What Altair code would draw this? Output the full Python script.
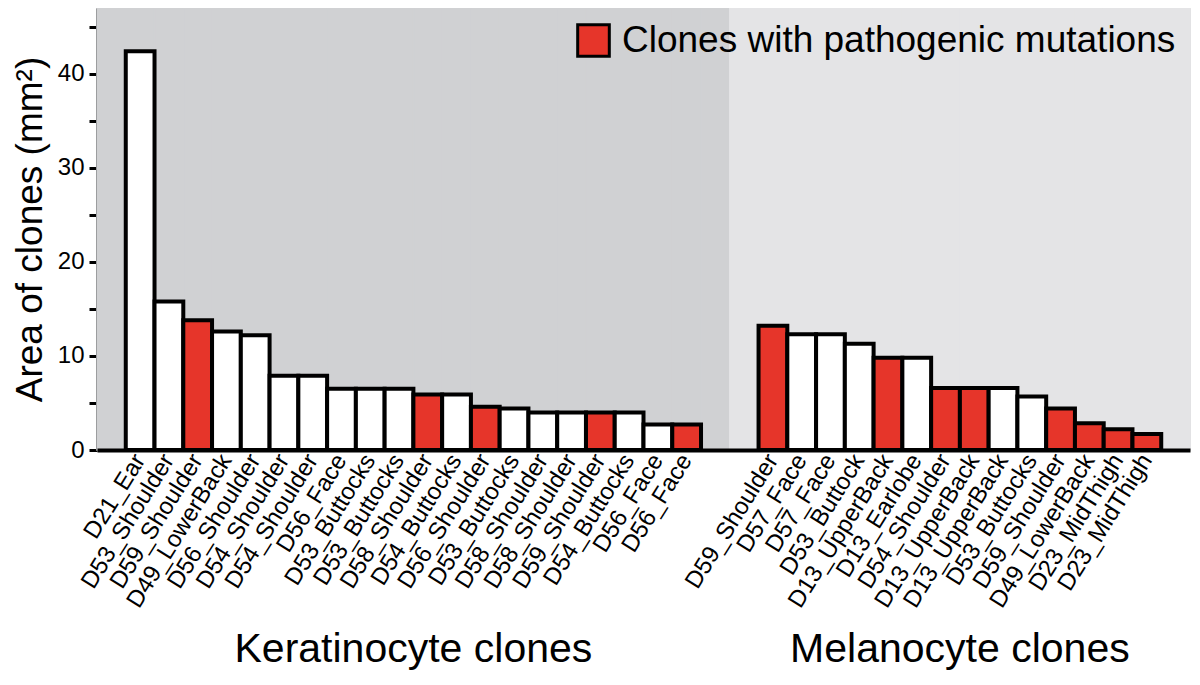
import altair as alt
import pandas as pd

# ---- data ----
ker_labels = ["D21_Ear", "D53_Shoulder", "D59_Shoulder", "D49_LowerBack", "D56_Shoulder",
              "D54_Shoulder", "D54_Shoulder", "D56_Face", "D53_Buttocks", "D53_Buttocks",
              "D58_Shoulder", "D54_Buttocks", "D56_Shoulder", "D53_Buttocks", "D58_Shoulder",
              "D58_Shoulder", "D59_Shoulder", "D54_Buttocks", "D56_Face", "D56_Face"]
ker_values = [42.4, 15.8, 13.8, 12.6, 12.2, 7.9, 7.9, 6.5, 6.5, 6.5,
              5.9, 5.9, 4.6, 4.4, 4.0, 4.0, 4.0, 4.0, 2.7, 2.7]
ker_mut = [0, 0, 1, 0, 0, 0, 0, 0, 0, 0, 1, 0, 1, 0, 0, 0, 1, 0, 0, 1]

mel_labels = ["D59_Shoulder", "D57_Face", "D57_Face", "D53_Buttock", "D13_UpperBack",
              "D13_Earlobe", "D54_Shoulder", "D13_UpperBack", "D13_UpperBack", "D53_Buttocks",
              "D59_Shoulder", "D49_LowerBack", "D23_MidThigh", "D23_MidThigh"]
mel_values = [13.2, 12.3, 12.3, 11.3, 9.8, 9.8, 6.6, 6.6, 6.6, 5.7, 4.4, 2.85, 2.2, 1.7]
mel_mut = [1, 0, 0, 0, 1, 0, 1, 1, 0, 0, 1, 1, 1, 1]

group_titles = ["Keratinocyte clones", "Melanocyte clones"]
legend_label = "Clones with pathogenic mutations"
y_max = 47

# ---- slot layout: 1 empty, 20 keratinocyte, 2 empty, 14 melanocyte, 1 empty ----
slot_labels = [""] + ker_labels + ["", ""] + mel_labels + [""]
n_slots = len(slot_labels)
k_start = 1
m_start = 1 + len(ker_labels) + 2

bars = []
for i, (lab, v, m) in enumerate(zip(ker_labels, ker_values, ker_mut)):
    bars.append({"slot": k_start + i, "label": lab, "value": v,
                 "cat": legend_label if m else "Other"})
for i, (lab, v, m) in enumerate(zip(mel_labels, mel_values, mel_mut)):
    bars.append({"slot": m_start + i, "label": lab, "value": v,
                 "cat": legend_label if m else "Other"})
bars_df = pd.DataFrame(bars)

dark_bg = "#d0d1d3"
light_bg = "#e4e4e6"
red = "#e6352a"
split = 1 + len(ker_labels) + 1  # middle of the gap
bg_df = pd.DataFrame({"slot": list(range(n_slots)),
                      "bg": [dark_bg if s < split else light_bg for s in range(n_slots)],
                      "y0": 0, "value": y_max})

title_df = pd.DataFrame({
    "slot": [k_start + len(ker_labels) // 2, m_start + len(mel_labels) // 2],
    "text": group_titles,
})

W, H = 1093, 442
FONT = "Liberation Sans"

label_expr = "[" + ",".join("'" + s + "'" for s in slot_labels) + "][datum.value]"

x_scale = alt.Scale(domain=list(range(n_slots)), paddingInner=0, paddingOuter=0)
y_scale = alt.Scale(domain=[0, y_max], nice=False)

x_axis = alt.Axis(labelExpr=label_expr, labelAngle=-58, labelFontSize=24,
                  labelFont=FONT, labelColor="black", ticks=False,
                  domain=True, domainColor="black", domainWidth=4,
                  labelPadding=6, labelOverlap=False, labelLimit=400,
                  title=None, labelAlign="right", labelBaseline="middle")
y_axis = alt.Axis(title="Area of clones (mm²)", titleFontSize=37, titleFont=FONT,
                  titleFontWeight="normal", titleColor="black", titlePadding=8,
                  values=list(range(0, 46, 5)),
                  labelExpr="datum.value % 10 == 0 ? datum.label : ''",
                  labelFontSize=24, labelFont=FONT, labelColor="black",
                  labelPadding=5, tickSize=8, tickWidth=3, tickColor="black",
                  domainColor="black", domainWidth=3, grid=False)

bg = alt.Chart(bg_df).mark_rect(strokeWidth=1.5).encode(
    x=alt.X("slot:O", scale=x_scale, axis=x_axis),
    y=alt.Y("y0:Q", scale=y_scale, axis=y_axis),
    y2="value:Q",
    fill=alt.Fill("bg:N", scale=None),
    stroke=alt.Stroke("bg:N", scale=None),
)

bar = alt.Chart(bars_df).mark_bar(stroke="black", strokeWidth=4).encode(
    x=alt.X("slot:O", scale=x_scale, axis=x_axis),
    y=alt.Y("value:Q", scale=y_scale, axis=y_axis),
    color=alt.Color("cat:N",
                    scale=alt.Scale(domain=[legend_label, "Other"], range=[red, "white"]),
                    legend=alt.Legend(values=[legend_label], title=None, orient="top-right",
                                      offset=14, padding=0, symbolType="square",
                                      symbolSize=1000, symbolStrokeColor="black",
                                      symbolStrokeWidth=3, symbolFillColor=red,
                                      labelFontSize=37, labelFont=FONT, labelColor="black",
                                      labelOffset=10, labelLimit=800)),
)

titles = alt.Chart(title_df).mark_text(fontSize=41, font=FONT, color="black",
                                       baseline="middle", align="center").encode(
    x=alt.X("slot:O", scale=x_scale, bandPosition=0),
    y=alt.value(H + 200),
    text="text:N",
)

chart = alt.layer(bg, bar, titles).properties(
    width=W, height=H,
    autosize=alt.AutoSizeParams(type="none"),
    padding={"left": 89, "top": 0, "right": 2, "bottom": 225},
).configure_view(stroke=None).configure(background="white")

chart.save("out.html", embed_options={"renderer": "svg", "actions": False})
